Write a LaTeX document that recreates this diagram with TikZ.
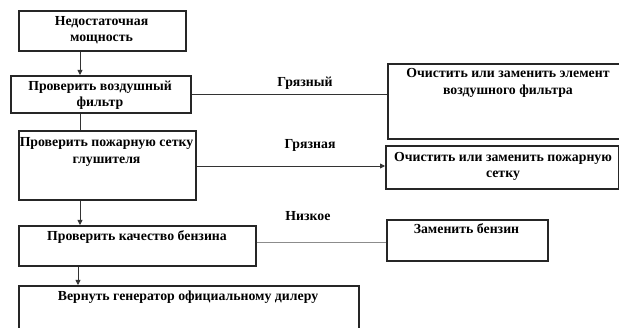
\documentclass[tikz,border=0pt]{standalone}
\usepackage{fontspec}
\setmainfont{Liberation Serif}
\usetikzlibrary{arrows.meta,positioning}
\begin{document}
\begin{tikzpicture}[x=1pt,y=-1pt,
  box/.style={draw=black!85,line width=1.6pt,anchor=north west,inner sep=0pt},
  txt/.style={font=\bfseries\fontsize{13.8}{16.5}\selectfont,align=center,inner sep=0pt,anchor=north},
  lbl/.style={font=\bfseries\fontsize{13.8}{16.5}\selectfont,inner sep=0pt},
  conn/.style={draw=black!80,line width=0.8pt},
  arr/.style={conn,-{Triangle[length=5pt,width=5pt]}}]
\clip (0,0) rectangle (619,328);
\fill[white] (0,0) rectangle (619,328);
% left column
\node[box,minimum width=167pt,minimum height=40pt] (b1) at (18,10) {};
\node[txt] (t1) at (101.5,16) {Недостаточная\\мощность};
\node[box,minimum width=180pt,minimum height=37pt] (b2) at (10,75) {};
\node[txt] (t2) at (100,80.5) {Проверить воздушный\\фильтр};
\node[box,minimum width=177pt,minimum height=69pt] (b3) at (18,130) {};
\node[txt] (t3) at (106.5,137.5) {Проверить пожарную сетку\\глушителя};
\node[box,minimum width=237pt,minimum height=40pt] (b4) at (18,225) {};
\node[txt] (t4) at (137,230) {Проверить качество бензина};
\node[box,minimum width=340pt,minimum height=60pt] (b5) at (18,285) {};
\node[txt] (t5) at (188,290.5) {Вернуть генератор официальному дилеру};
% right column
\node[box,minimum width=240pt,minimum height=75pt] (bA) at (387,63) {};
\node[txt] (tA) at (508,68.5) {Очистить или заменить элемент\\воздушного фильтра};
\node[box,minimum width=233pt,minimum height=43pt] (bB) at (385,145) {};
\node[txt] (tB) at (503,152) {Очистить или заменить пожарную\\сетку};
\node[box,minimum width=161pt,minimum height=41pt] (bC) at (386,219) {};
\node[txt] (tC) at (466.5,223) {Заменить бензин};
% labels
\node[lbl] (lA) at (305,83) {Грязный};
\node[lbl] (lB) at (310,145) {Грязная};
\node[lbl] (lC) at (308,216) {Низкое};
% connectors
\coordinate (xa) at (80,0);
\coordinate (xb) at (78,0);
\draw[arr] (b1.south -| xa) -- (b2.north -| xa);
\draw[conn] (b2.south -| xa) -- (b3.north -| xa);
\draw[arr] (b3.south -| xa) -- (b4.north -| xa);
\draw[arr] (b4.south -| xb) -- (b5.north -| xb);
\coordinate (yA) at (0,94);
\coordinate (yB) at (0,166);
\coordinate (yC) at (0,243);
\draw[conn] (b2.east |- yA) -- (bA.west |- yA);
\draw[arr] (b3.east |- yB) -- (bB.west |- yB);
\draw[conn,draw=black!45,line width=1pt] (b4.east |- yC) -- (bC.west |- yC);
\end{tikzpicture}
\end{document}
